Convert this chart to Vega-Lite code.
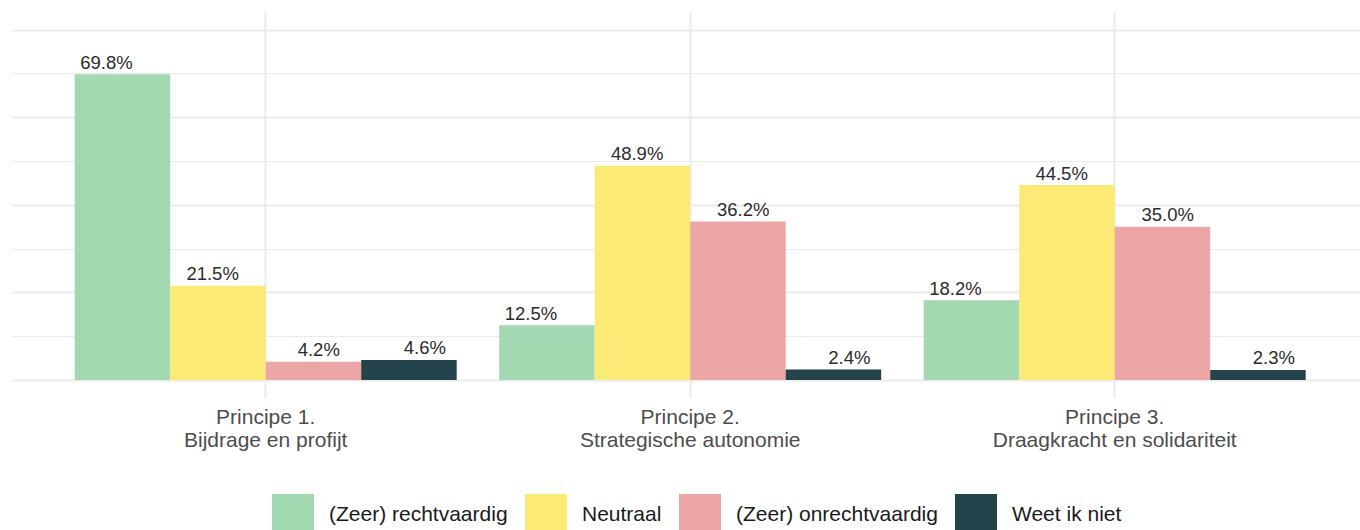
{
  "$schema": "https://vega.github.io/schema/vega-lite/v6.json",
  "autosize": {"type": "none"},
  "padding": {"left": 11, "top": 12, "right": 0, "bottom": 132.4},
  "width": 1349,
  "height": 385.6,
  "background": "white",
  "config": {"view": {"stroke": null}, "font": "Liberation Sans"},
  "data": {
    "values": [
      {"principe": "Principe 1.\nBijdrage en profijt", "antwoord": "(Zeer) rechtvaardig", "value": 0.698},
      {"principe": "Principe 1.\nBijdrage en profijt", "antwoord": "Neutraal", "value": 0.215},
      {"principe": "Principe 1.\nBijdrage en profijt", "antwoord": "(Zeer) onrechtvaardig", "value": 0.042},
      {"principe": "Principe 1.\nBijdrage en profijt", "antwoord": "Weet ik niet", "value": 0.046},
      {"principe": "Principe 2.\nStrategische autonomie", "antwoord": "(Zeer) rechtvaardig", "value": 0.125},
      {"principe": "Principe 2.\nStrategische autonomie", "antwoord": "Neutraal", "value": 0.489},
      {"principe": "Principe 2.\nStrategische autonomie", "antwoord": "(Zeer) onrechtvaardig", "value": 0.362},
      {"principe": "Principe 2.\nStrategische autonomie", "antwoord": "Weet ik niet", "value": 0.024},
      {"principe": "Principe 3.\nDraagkracht en solidariteit", "antwoord": "(Zeer) rechtvaardig", "value": 0.182},
      {"principe": "Principe 3.\nDraagkracht en solidariteit", "antwoord": "Neutraal", "value": 0.445},
      {"principe": "Principe 3.\nDraagkracht en solidariteit", "antwoord": "(Zeer) onrechtvaardig", "value": 0.350},
      {"principe": "Principe 3.\nDraagkracht en solidariteit", "antwoord": "Weet ik niet", "value": 0.023}
    ]
  },
  "encoding": {
    "x": {
      "field": "principe", "type": "nominal", "sort": null,
      "scale": {"type": "band", "range": [0, 1358.4], "paddingInner": 0, "paddingOuter": 0.1},
      "axis": {
        "title": null, "domain": false, "ticks": false, "grid": true, "bandPosition": 0.5,
        "gridColor": "#EBEBEB", "gridWidth": 2, "labelAngle": 0, "labelFontSize": 21,
        "labelColor": "#4D4D4D", "labelLineHeight": 23, "labelPadding": 9, "labelLimit": 500,
        "labelExpr": "split(datum.label, '\\n')", "labelFont": "Liberation Sans"
      }
    },
    "y": {
      "field": "value", "type": "quantitative",
      "scale": {"domain": [-0.04, 0.84], "nice": false, "zero": false},
      "axis": {
        "values": [0, 0.1, 0.2, 0.3, 0.4, 0.5, 0.6, 0.7, 0.8],
        "labels": false, "ticks": false, "domain": false, "title": null, "grid": true,
        "gridColor": "#EBEBEB",
        "gridWidth": {"condition": {"test": "round(datum.value*10) % 2 == 0", "value": 2}, "value": 1}
      }
    }
  },
  "layer": [
    {
      "mark": {"type": "bar"},
      "encoding": {
        "y2": {"datum": 0},
        "xOffset": {
          "field": "antwoord", "type": "nominal",
          "sort": ["(Zeer) rechtvaardig", "Neutraal", "(Zeer) onrechtvaardig", "Weet ik niet"],
          "scale": {"type": "band", "paddingInner": 0, "paddingOuter": 0.2225}
        },
        "color": {
          "field": "antwoord", "type": "nominal",
          "scale": {
            "domain": ["(Zeer) rechtvaardig", "Neutraal", "(Zeer) onrechtvaardig", "Weet ik niet"],
            "range": ["#A2D9B1", "#FCEA76", "#EDA6A6", "#25434A"]
          },
          "legend": {
            "orient": "none", "legendX": 261, "legendY": 482, "direction": "horizontal", "columns": 4,
            "title": null, "symbolType": "square", "symbolSize": 1764, "symbolStrokeWidth": 0,
            "symbolOpacity": 1, "labelFontSize": 21, "labelColor": "#1A1A1A", "labelOffset": 15,
            "columnPadding": 17, "padding": 0, "labelLimit": 400, "labelFont": "Liberation Sans"
          }
        }
      }
    },
    {
      "mark": {"type": "text", "baseline": "alphabetic", "dy": -5.5, "fontSize": 18.5, "fill": "#2B2B2B", "font": "Liberation Sans"},
      "encoding": {
        "xOffset": {
          "field": "antwoord", "type": "nominal",
          "sort": ["(Zeer) rechtvaardig", "Neutraal", "(Zeer) onrechtvaardig", "Weet ik niet"],
          "scale": {"type": "band", "paddingInner": 0, "paddingOuter": 0}
        },
        "text": {"field": "value", "type": "quantitative", "format": ".1%"}
      }
    }
  ],
  "resolve": {"scale": {"xOffset": "independent"}}
}
